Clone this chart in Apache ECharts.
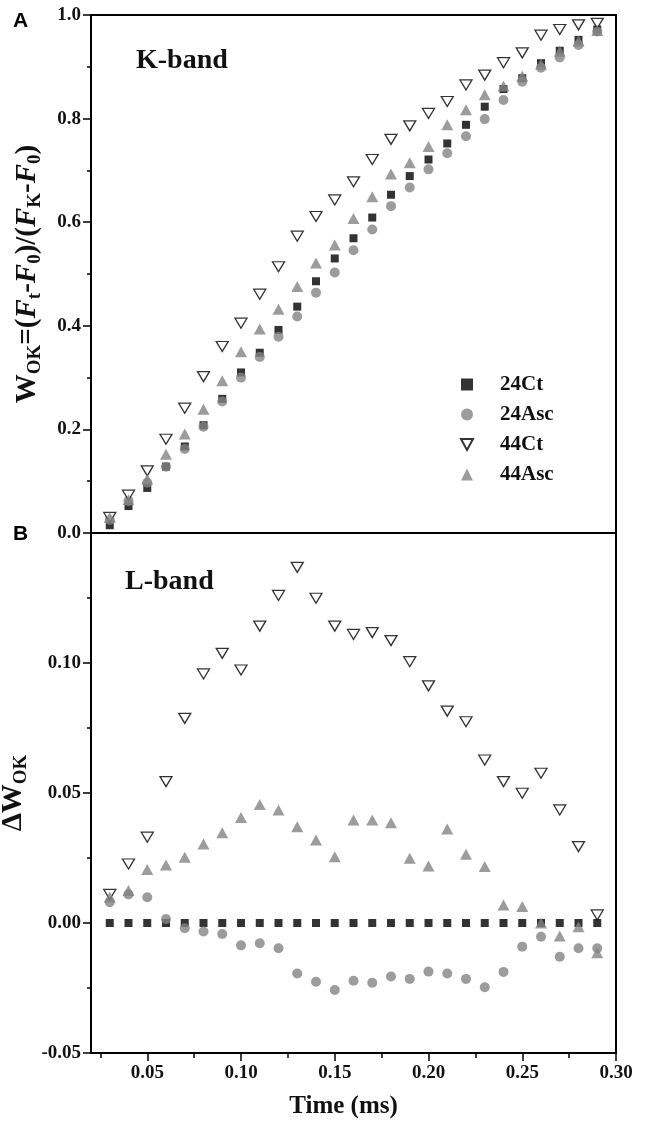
<!DOCTYPE html>
<html>
<head>
<meta charset="utf-8">
<script src="https://cdn.jsdelivr.net/npm/echarts@6/dist/echarts.min.js"></script>
<style>
html,body{margin:0;padding:0;background:#fff;}
#chart{width:646px;height:1127px;}
</style>
</head>
<body>
<div id="chart"></div>
<script>
// ---- data ----
const times = [0.03,0.04,0.05,0.06,0.07,0.08,0.09,0.10,0.11,0.12,0.13,0.14,0.15,0.16,0.17,0.18,0.19,0.20,0.21,0.22,0.23,0.24,0.25,0.26,0.27,0.28,0.29];
const seriesNames = ['24Ct','24Asc','44Ct','44Asc'];
// Panel A: K-band W_OK
const wok24Ct  = [0.015,0.052,0.087,0.128,0.167,0.208,0.259,0.310,0.348,0.392,0.437,0.486,0.530,0.569,0.609,0.653,0.689,0.721,0.752,0.788,0.823,0.857,0.878,0.907,0.931,0.952,0.972];
const wok24Asc = [0.025,0.062,0.097,0.128,0.162,0.205,0.254,0.300,0.340,0.379,0.418,0.464,0.503,0.546,0.586,0.631,0.667,0.702,0.733,0.766,0.799,0.836,0.871,0.898,0.918,0.942,0.968];
const wok44Ct  = [0.030,0.073,0.120,0.181,0.241,0.302,0.360,0.405,0.461,0.514,0.573,0.611,0.643,0.678,0.721,0.760,0.786,0.810,0.833,0.865,0.884,0.908,0.927,0.961,0.972,0.981,0.984];
const wok44Asc = [0.030,0.064,0.104,0.152,0.191,0.239,0.294,0.350,0.394,0.432,0.476,0.521,0.556,0.607,0.649,0.693,0.715,0.746,0.788,0.817,0.846,0.863,0.882,0.905,0.930,0.950,0.970];
// Panel B: L-band delta W_OK
const dw24Ct  = [0,0,0,0,0,0,0,0,0,0,0,0,0,0,0,0,0,0,0,0,0,0,0,0,0,0,0];
const dw24Asc = [0.0080,0.0110,0.0099,0.0015,-0.0020,-0.0033,-0.0042,-0.0086,-0.0078,-0.0097,-0.0194,-0.0226,-0.0258,-0.0222,-0.0230,-0.0206,-0.0215,-0.0187,-0.0194,-0.0215,-0.0247,-0.0188,-0.0091,-0.0053,-0.0130,-0.0097,-0.0097];
const dw44Ct  = [0.0110,0.0227,0.0330,0.0544,0.0787,0.0958,0.1037,0.0973,0.1142,0.1260,0.1368,0.1249,0.1142,0.1110,0.1117,0.1086,0.1005,0.0912,0.0815,0.0774,0.0627,0.0544,0.0499,0.0576,0.0435,0.0294,0.0031];
const dw44Asc = [0.0100,0.0125,0.0206,0.0223,0.0253,0.0304,0.0347,0.0406,0.0456,0.0435,0.0370,0.0319,0.0255,0.0396,0.0396,0.0386,0.0249,0.0219,0.0362,0.0264,0.0217,0.0069,0.0063,0.0000,-0.0050,-0.0014,-0.0114];
// ticks
const xMajorTicks = [0.05,0.10,0.15,0.20,0.25,0.30];
const xMinorTicks = [0.025,0.075,0.125,0.175,0.225,0.275];

// ---- styling ----
const SERIF = '"Liberation Serif","Times New Roman",serif';
const GRAY = '#838383';
const invTri = 'path://M0,0L20,0L10,18Z';
const styles = {
  '24Ct':  {symbol:'rect', symbolSize:8, itemStyle:{color:'#000'}},
  '24Asc': {symbol:'circle', symbolSize:10, itemStyle:{color:GRAY}},
  '44Ct':  {symbol:invTri, symbolSize:[12,10], itemStyle:{color:'#fff', borderColor:'#000', borderWidth:1.3}},
  '44Asc': {symbol:'triangle', symbolSize:[12,11], itemStyle:{color:GRAY}}
};
const pair = arr => times.map((t,i)=>[t, arr[i]]);
const topData = {'24Ct':wok24Ct,'24Asc':wok24Asc,'44Ct':wok44Ct,'44Asc':wok44Asc};
const botData = {'24Ct':dw24Ct,'24Asc':dw24Asc,'44Ct':dw44Ct,'44Asc':dw44Asc};

const series = [];
seriesNames.forEach(n=>{
  series.push(Object.assign({type:'scatter', name:n, xAxisIndex:0, yAxisIndex:0, data:pair(topData[n]), clip:false, emphasis:{disabled:true}}, styles[n]));
});
seriesNames.forEach(n=>{
  series.push(Object.assign({type:'scatter', name:n, xAxisIndex:1, yAxisIndex:1, data:pair(botData[n]), clip:false, emphasis:{disabled:true}}, styles[n]));
});

const axisLineStyle = {show:true, onZero:false, lineStyle:{color:'#000', width:2}};
const labelStyle = {fontFamily:SERIF, fontWeight:'bold', fontSize:19, color:'#111'};

const chart = echarts.init(document.getElementById('chart'), null, {renderer:'canvas'});
chart.setOption({
  animation:false,
  backgroundColor:'#fff',
  grid:[
    {left:91, top:15, width:525, height:518, outerBoundsMode:'none', containLabel:false, show:true, borderColor:'#000', borderWidth:2, backgroundColor:'transparent'},
    {left:91, top:533, width:525, height:520, outerBoundsMode:'none', containLabel:false, show:true, borderColor:'#000', borderWidth:2, backgroundColor:'transparent'}
  ],
  xAxis:[
    {type:'value', gridIndex:0, position:'bottom', min:0.02, max:0.30, axisLine:axisLineStyle, axisTick:{show:false}, axisLabel:{show:false}, splitLine:{show:false}},
    {type:'value', gridIndex:1, position:'bottom', min:0.02, max:0.30, axisLine:axisLineStyle,
     axisTick:{show:true, length:8, lineStyle:{color:'#000', width:1.5}, customValues:xMajorTicks},
     axisLabel:Object.assign({show:true, margin:11, customValues:xMajorTicks, formatter:v=>v.toFixed(2)}, labelStyle),
     splitLine:{show:false},
     name:'Time (ms)', nameLocation:'middle', nameGap:41,
     nameTextStyle:{fontFamily:SERIF, fontWeight:'bold', fontSize:25, color:'#111', padding:[0,20,0,0]}},
    {type:'value', gridIndex:1, position:'bottom', min:0.02, max:0.30, axisLine:{show:false, onZero:false},
     axisTick:{show:true, length:5, lineStyle:{color:'#000', width:1.5}, customValues:xMinorTicks},
     axisLabel:{show:false}, splitLine:{show:false}}
  ],
  yAxis:[
    {type:'value', gridIndex:0, position:'left', min:0, max:1, interval:0.2, axisLine:axisLineStyle,
     axisTick:{show:true, length:8, lineStyle:{color:'#000', width:1.5}},
     minorTick:{show:true, splitNumber:2, length:4, lineStyle:{color:'#000', width:1.5}},
     axisLabel:Object.assign({margin:10, formatter:v=>v.toFixed(1)}, labelStyle),
     splitLine:{show:false}, minorSplitLine:{show:false},
     name:'{m|W}{s|OK}{m|=(}{i|F}{s|t}{m|-}{i|F}{s|0}{m|)/(}{i|F}{s|K}{m|-}{i|F}{s|0}{m|)}',
     nameLocation:'middle', nameRotate:90, nameGap:46,
     nameTextStyle:{rich:{
       m:{fontFamily:SERIF, fontWeight:'bold', fontSize:29, lineHeight:34, color:'#111'},
       i:{fontFamily:SERIF, fontWeight:'bold', fontStyle:'italic', fontSize:29, lineHeight:34, color:'#111'},
       s:{fontFamily:SERIF, fontWeight:'bold', fontSize:19, lineHeight:18, verticalAlign:'bottom', color:'#111'}
     }}},
    {type:'value', gridIndex:1, position:'left', min:-0.05, max:0.15, interval:0.05, axisLine:axisLineStyle,
     axisTick:{show:true, length:8, lineStyle:{color:'#000', width:1.5}},
     minorTick:{show:true, splitNumber:2, length:4, lineStyle:{color:'#000', width:1.5}},
     axisLabel:Object.assign({margin:10, formatter:v=> v>0.14 ? '' : v.toFixed(2)}, labelStyle),
     splitLine:{show:false}, minorSplitLine:{show:false},
     name:'{m|ΔW}{s|OK}',
     nameLocation:'middle', nameRotate:90, nameGap:46,
     nameTextStyle:{rich:{
       m:{fontFamily:SERIF, fontWeight:'bold', fontSize:29, lineHeight:34, color:'#111'},
       s:{fontFamily:SERIF, fontWeight:'bold', fontSize:19, lineHeight:18, verticalAlign:'bottom', color:'#111'}
     }}}
  ],
  legend:{
    data:seriesNames, orient:'vertical', left:455, top:369, itemWidth:12, itemHeight:12, itemGap:9,
    textStyle:{fontFamily:SERIF, fontWeight:'bold', fontSize:21, color:'#111', padding:[0,0,0,22]},
    selectedMode:false
  },
  graphic:[
    {type:'text', left:136, top:47, style:{text:'K-band', font:'bold 28px "Liberation Serif", serif', fill:'#111'}},
    {type:'text', left:125, top:568, style:{text:'L-band', font:'bold 28px "Liberation Serif", serif', fill:'#111'}},
    {type:'text', left:13, top:11, style:{text:'A', font:'bold 21px "Liberation Sans", Arial, sans-serif', fill:'#000'}},
    {type:'text', left:13, top:524, style:{text:'B', font:'bold 21px "Liberation Sans", Arial, sans-serif', fill:'#000'}}
  ],
  series:series
});
</script>
</body>
</html>
